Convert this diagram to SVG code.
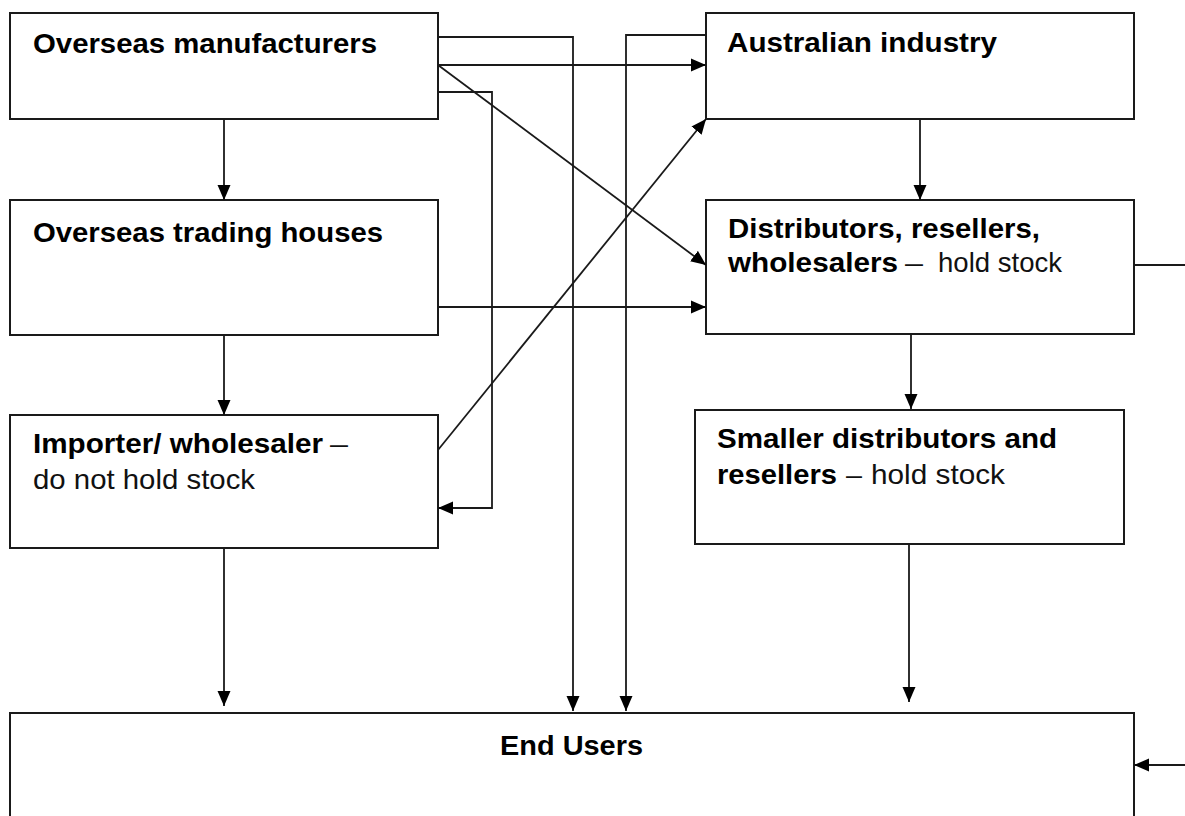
<svg xmlns="http://www.w3.org/2000/svg" width="1185" height="816" viewBox="0 0 1185 816">
<style>
.box{fill:#fff;stroke:#1a1a1a;stroke-width:2}
.c{fill:none;stroke:#1a1a1a;stroke-width:1.8}
.b{font-family:"Liberation Sans",Arial,sans-serif;font-weight:bold;font-size:28px;fill:#000}
.r{font-family:"Liberation Sans",Arial,sans-serif;font-size:28px;fill:#111}
</style>
<defs>
<marker id="ah" markerUnits="userSpaceOnUse" markerWidth="16" markerHeight="14" viewBox="0 0 16 14" refX="15" refY="7" orient="auto">
<path d="M0,0.5 L15,7 L0,13.5 Z" fill="#000"/>
</marker>
</defs>
<rect width="1185" height="816" fill="#fff"/>
<g id="overseas-manufacturers">
<rect class="box" x="10" y="13" width="428" height="106"/>
<text class="b" x="33" y="53" textLength="344" lengthAdjust="spacingAndGlyphs">Overseas manufacturers</text>
</g>
<g id="overseas-trading-houses">
<rect class="box" x="10" y="200" width="428" height="135"/>
<text class="b" x="33" y="242" textLength="350" lengthAdjust="spacingAndGlyphs">Overseas trading houses</text>
</g>
<g id="importer-wholesaler">
<rect class="box" x="10" y="415" width="428" height="133"/>
<text class="b" x="33" y="453" textLength="290" lengthAdjust="spacingAndGlyphs">Importer/ wholesaler</text>
<text class="r" x="330" y="453" textLength="18" lengthAdjust="spacingAndGlyphs">–</text>
<text class="r" x="33" y="489" textLength="222" lengthAdjust="spacingAndGlyphs">do not hold stock</text>
</g>
<g id="australian-industry">
<rect class="box" x="706" y="13" width="428" height="106"/>
<text class="b" x="727" y="52" textLength="270" lengthAdjust="spacingAndGlyphs">Australian industry</text>
</g>
<g id="distributors">
<rect class="box" x="706" y="200" width="428" height="134"/>
<text class="b" x="728" y="238" textLength="312" lengthAdjust="spacingAndGlyphs">Distributors, resellers,</text>
<text class="b" x="728" y="272" textLength="170" lengthAdjust="spacingAndGlyphs">wholesalers</text>
<text class="r" x="905" y="272" textLength="18" lengthAdjust="spacingAndGlyphs">–</text>
<text class="r" x="938" y="272" textLength="124" lengthAdjust="spacingAndGlyphs">hold stock</text>
</g>
<g id="smaller-distributors">
<rect class="box" x="695" y="410" width="429" height="134"/>
<text class="b" x="717" y="448" textLength="340" lengthAdjust="spacingAndGlyphs">Smaller distributors and</text>
<text class="b" x="717" y="484" textLength="120" lengthAdjust="spacingAndGlyphs">resellers</text>
<text class="r" x="846" y="484" textLength="16" lengthAdjust="spacingAndGlyphs">–</text>
<text class="r" x="871" y="484" textLength="134" lengthAdjust="spacingAndGlyphs">hold stock</text>
</g>
<g id="end-users">
<rect class="box" x="10" y="713" width="1124" height="120"/>
<text class="b" x="500" y="755" textLength="143" lengthAdjust="spacingAndGlyphs">End Users</text>
</g>
<g id="connectors">
<path class="c" d="M224,119 V200" marker-end="url(#ah)"/>
<path class="c" d="M224,335 V415" marker-end="url(#ah)"/>
<path class="c" d="M224,548 V706" marker-end="url(#ah)"/>
<path class="c" d="M438,37 H573 V711" marker-end="url(#ah)"/>
<path class="c" d="M706,35 H626 V711" marker-end="url(#ah)"/>
<path class="c" d="M438,65 H706" marker-end="url(#ah)"/>
<path class="c" d="M438,92 H492 V508 H438" marker-end="url(#ah)"/>
<path class="c" d="M438,65 L706,265" marker-end="url(#ah)"/>
<path class="c" d="M438,307 H706" marker-end="url(#ah)"/>
<path class="c" d="M438,450 L706,119" marker-end="url(#ah)"/>
<path class="c" d="M920,119 V200" marker-end="url(#ah)"/>
<path class="c" d="M911,334 V409" marker-end="url(#ah)"/>
<path class="c" d="M909,544 V702" marker-end="url(#ah)"/>
<path class="c" d="M1134,265 H1195 V765 H1134" marker-end="url(#ah)"/>
</g>
</svg>
